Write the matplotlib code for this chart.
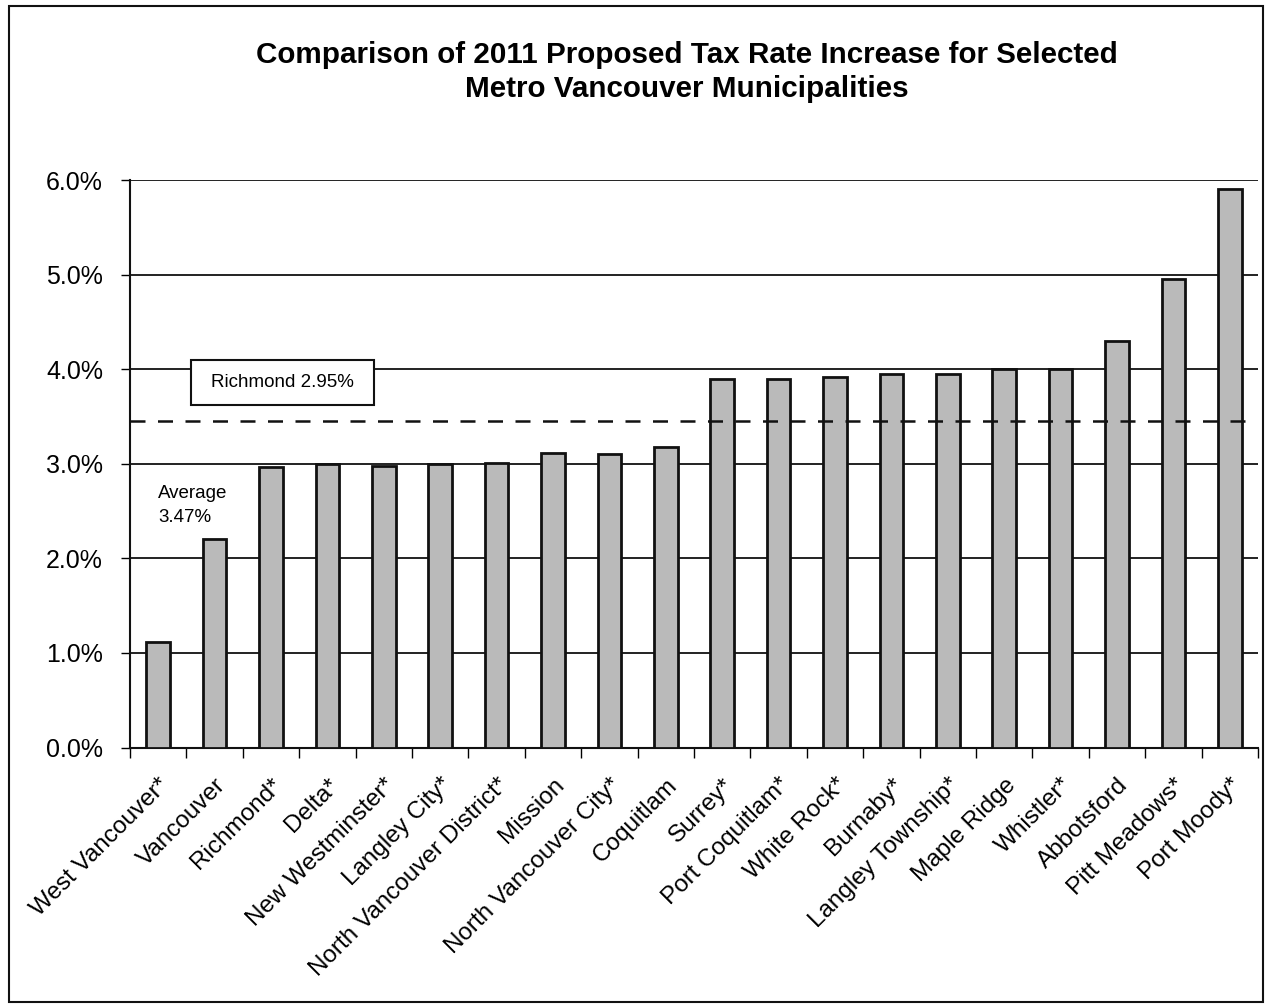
import matplotlib
matplotlib.use("Agg")
import matplotlib.pyplot as plt
from matplotlib.patches import Rectangle
from matplotlib.ticker import FuncFormatter, FixedLocator

municipalities = ["West Vancouver*", "Vancouver", "Richmond*", "Delta*", "New Westminster*",
                  "Langley City*", "North Vancouver District*", "Mission", "North Vancouver City*",
                  "Coquitlam", "Surrey*", "Port Coquitlam*", "White Rock*", "Burnaby*",
                  "Langley Township*", "Maple Ridge", "Whistler*", "Abbotsford", "Pitt Meadows*",
                  "Port Moody*"]
rates = [1.12, 2.20, 2.97, 3.00, 2.98, 3.00, 3.01, 3.11, 3.10, 3.18,
         3.90, 3.90, 3.92, 3.95, 3.95, 4.00, 4.00, 4.30, 4.95, 5.91]
average_line = 3.45
yticks = [0, 1, 2, 3, 4, 5, 6]

plt.rcParams['font.family'] = ['Liberation Sans', 'DejaVu Sans']

W, H = 1265, 1005
AX_L, AX_R, AX_T, AX_B = 130, 1258, 180, 747.5
fig = plt.figure(figsize=(W / 100, H / 100), dpi=100)
ax = fig.add_axes([AX_L / W, 1 - AX_B / H, (AX_R - AX_L) / W, (AX_B - AX_T) / H])
axw, axh = AX_R - AX_L, AX_B - AX_T

x = list(range(len(municipalities)))
ax.set_axisbelow(True)
ax.yaxis.grid(True, color='#222222', linewidth=1.4)
ax.bar(x, rates, width=0.42, color='#bababa', edgecolor='#111111', linewidth=2.0, zorder=3)
ax.axhline(average_line, color='#111111', linestyle=(0, (6, 5)), linewidth=1.8, zorder=4)

ax.set_xlim(-0.5, len(municipalities) - 0.5)
ax.set_ylim(0, 6)
ax.set_yticks(yticks)
ax.yaxis.set_major_formatter(FuncFormatter(lambda v, p: f"{v:.1f}%"))
ax.tick_params(axis='y', labelsize=18, length=6.5, width=1, direction='out', pad=13)

ax.set_xticks(x)
ax.set_xticklabels(municipalities, rotation=45, ha='right', rotation_mode='anchor', fontsize=17.5)
ax.tick_params(axis='x', which='major', length=0, pad=19)
ax.xaxis.set_minor_locator(FixedLocator([i + 0.5 for i in range(-1, len(municipalities))]))
ax.tick_params(axis='x', which='minor', length=7, width=1, direction='out')

for s in ['top', 'right']:
    ax.spines[s].set_visible(False)
for s in ['left', 'bottom']:
    ax.spines[s].set_linewidth(1.5)
    ax.spines[s].set_color('#111111')

# Richmond annotation box
bx0, bx1, by0, by1 = 191, 374, 360, 405
ax.add_patch(Rectangle(((bx0 - AX_L) / axw, (AX_B - by1) / axh), (bx1 - bx0) / axw, (by1 - by0) / axh,
                       transform=ax.transAxes, facecolor='white', edgecolor='#111111',
                       linewidth=1.5, zorder=5, clip_on=False))
ax.text(((bx0 + bx1) / 2 - AX_L) / axw, (AX_B - 382) / axh, "Richmond 2.95%", transform=ax.transAxes,
        ha='center', va='center', fontsize=13.5, zorder=6)
ax.text((158 - AX_L) / axw, (AX_B - 485) / axh, "Average\n3.47%", transform=ax.transAxes,
        ha='left', va='top', fontsize=13.5, linespacing=1.55, zorder=6)

fig.text(687 / W, 1 - 55 / H, "Comparison of 2011 Proposed Tax Rate Increase for Selected",
         ha='center', va='center', fontsize=21.3, fontweight='bold')
fig.text(687 / W, 1 - 89 / H, "Metro Vancouver Municipalities",
         ha='center', va='center', fontsize=21.3, fontweight='bold')

fig.add_artist(Rectangle((9 / W, 3 / H), 1254 / W, 996 / H, transform=fig.transFigure,
                         fill=False, edgecolor='#111111', linewidth=1.5))

fig.savefig("out.png", dpi=100)
